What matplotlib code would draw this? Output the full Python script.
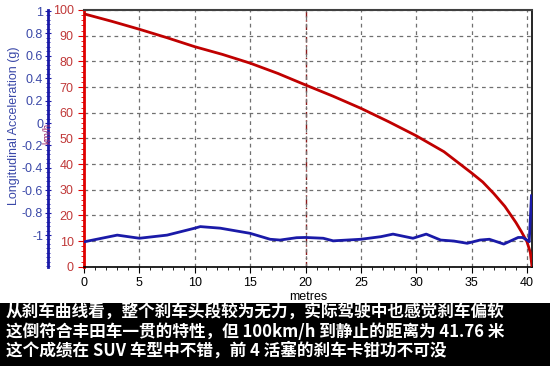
import matplotlib
matplotlib.use('Agg')
import matplotlib.pyplot as plt
from matplotlib.ticker import MultipleLocator, FixedLocator

plt.rcParams['font.family'] = ['Liberation Sans', 'DejaVu Sans']

# speed curve (km/h vs metres)
speed_x = [0, 2.5, 5, 7.5, 10, 12.5, 15, 17.5, 20, 22.5, 25, 27.5, 30, 32.5, 35, 36, 37,
           38, 39, 39.5, 40.0, 40.3, 40.45]
speed_v = [98.5, 95.6, 92.5, 89.2, 85.7, 82.7, 79.3, 75.3, 70.8, 66.4, 61.7, 56.5, 51.0,
           44.8, 36.5, 33.0, 28.5, 23.5, 17.2, 13.6, 9.7, 5.5, 0]

# longitudinal acceleration (g vs metres)
acc_x = [0, 3.0, 5.0, 7.5, 10.0, 10.5, 12.3, 15.0, 16.8, 17.7, 19.2, 20.0, 21.6, 22.5,
         25.0, 26.8, 27.9, 29.7, 30.9, 32.2, 33.4, 34.6, 35.75, 36.6, 37.9, 39.2, 39.6,
         40.0, 40.2, 40.4]
acc_g = [-1.061, -1.001, -1.029, -1.001, -0.939, -0.925, -0.939, -0.985, -1.038, -1.045,
         -1.024, -1.022, -1.029, -1.052, -1.038, -1.015, -0.992, -1.029, -0.992, -1.045,
         -1.054, -1.074, -1.045, -1.038, -1.081, -1.022, -1.022, -1.045, -1.06, -0.65]

g_ticks = [1, 0.8, 0.6, 0.4, 0.2, 0, -0.2, -0.4, -0.6, -0.8, -1]
g_labels = ['1', '0.8', '0.6', '0.4', '0.2', '0', '-0.2', '-0.4', '-0.6', '-0.8', '-1']

caption = ['从刹车曲线看，整个刹车头段较为无力，实际驾驶中也感觉刹车偏软',
           '这倒符合丰田车一贯的特性，但 100km/h 到静止的距离为 41.76 米',
           '这个成绩在 SUV 车型中不错，前 4 活塞的刹车卡钳功不可没']

red = '#e00000'
red_txt = '#c03838'
blue = '#1a1aa8'
blue_txt = '#3a48a8'

fig = plt.figure(figsize=(5.5, 3.66), dpi=100)
ax = fig.add_axes([84/550, 1-266.7/366, (532-84)/550, (266.7-10)/366])

ax.set_xlim(0, 40.45)
ax.set_ylim(0, 100)
ax.xaxis.set_major_locator(MultipleLocator(5))
ax.xaxis.set_minor_locator(MultipleLocator(1))
ax.yaxis.set_major_locator(MultipleLocator(10))
ax.yaxis.set_minor_locator(MultipleLocator(2))
ax.grid(True, which='major', color='#707070', linestyle=(0, (3, 3)), linewidth=0.9)
ax.axvline(20, color='#8b1a1a', linestyle=(0, (4, 2, 1, 2)), linewidth=1, zorder=1)

ax.tick_params(axis='y', which='both', colors=red, labelcolor=red_txt, labelsize=9, direction='out')
ax.tick_params(axis='y', which='major', length=4)
ax.tick_params(axis='y', which='minor', length=2)
ax.tick_params(axis='x', which='major', length=4, labelsize=9)
ax.tick_params(axis='x', which='minor', length=2)
ax.spines['left'].set_color(red)
ax.spines['left'].set_linewidth(2)
ax.spines['top'].set_color('#404040')
ax.spines['top'].set_linewidth(1.5)
ax.spines['right'].set_linewidth(1.2)
ax.spines['bottom'].set_linewidth(1.2)
ax.set_xlabel('metres', fontsize=9, labelpad=1)

ax.plot(speed_x, speed_v, color='#c00000', linewidth=2, zorder=3)

# acceleration axis, offset to the left
ax2 = ax.twinx()
ax2.set_ylim(-1.283, 1.009)
ax2.spines['left'].set_visible(True)
ax2.spines['left'].set_position(('outward', 26))
ax2.spines['left'].set_color(blue)
ax2.spines['left'].set_linewidth(2)
ax2.spines['right'].set_visible(False)
ax2.spines['top'].set_visible(False)
ax2.spines['bottom'].set_visible(False)
ax2.yaxis.set_label_position('left')
ax2.yaxis.set_ticks_position('left')
ax2.yaxis.set_major_locator(FixedLocator(g_ticks))
ax2.set_yticklabels(g_labels)
ax2.yaxis.set_minor_locator(MultipleLocator(0.04))
ax2.tick_params(axis='y', which='both', colors=blue, labelcolor=blue_txt, labelsize=9, direction='inout')
ax2.tick_params(axis='y', which='major', length=5, pad=1)
ax2.tick_params(axis='y', which='minor', length=3)
ax2.set_ylabel('Longitudinal Acceleration (g)', color=blue_txt, fontsize=9, labelpad=2)
ax2.yaxis.set_label_coords(-0.142, 0.55)

ax2.plot(acc_x, acc_g, color=blue, linewidth=2, zorder=4)

fig.text(47/550, 1-133/366, 'km/h', rotation=90, color='#a03070', fontsize=7,
         ha='center', va='center')

# caption band
fig.patches.append(plt.Rectangle((0, 0), 1, 63/366, transform=fig.transFigure,
                                 facecolor='black', edgecolor='none', zorder=0))
for i, line in enumerate(caption):
    fig.text(6/550, 1-(313+19*i)/366, line, color='white', fontsize=12, fontweight='black',
             family=['Noto Sans CJK SC', 'DejaVu Sans'], ha='left', va='center')

fig.savefig('out.png', dpi=100)
